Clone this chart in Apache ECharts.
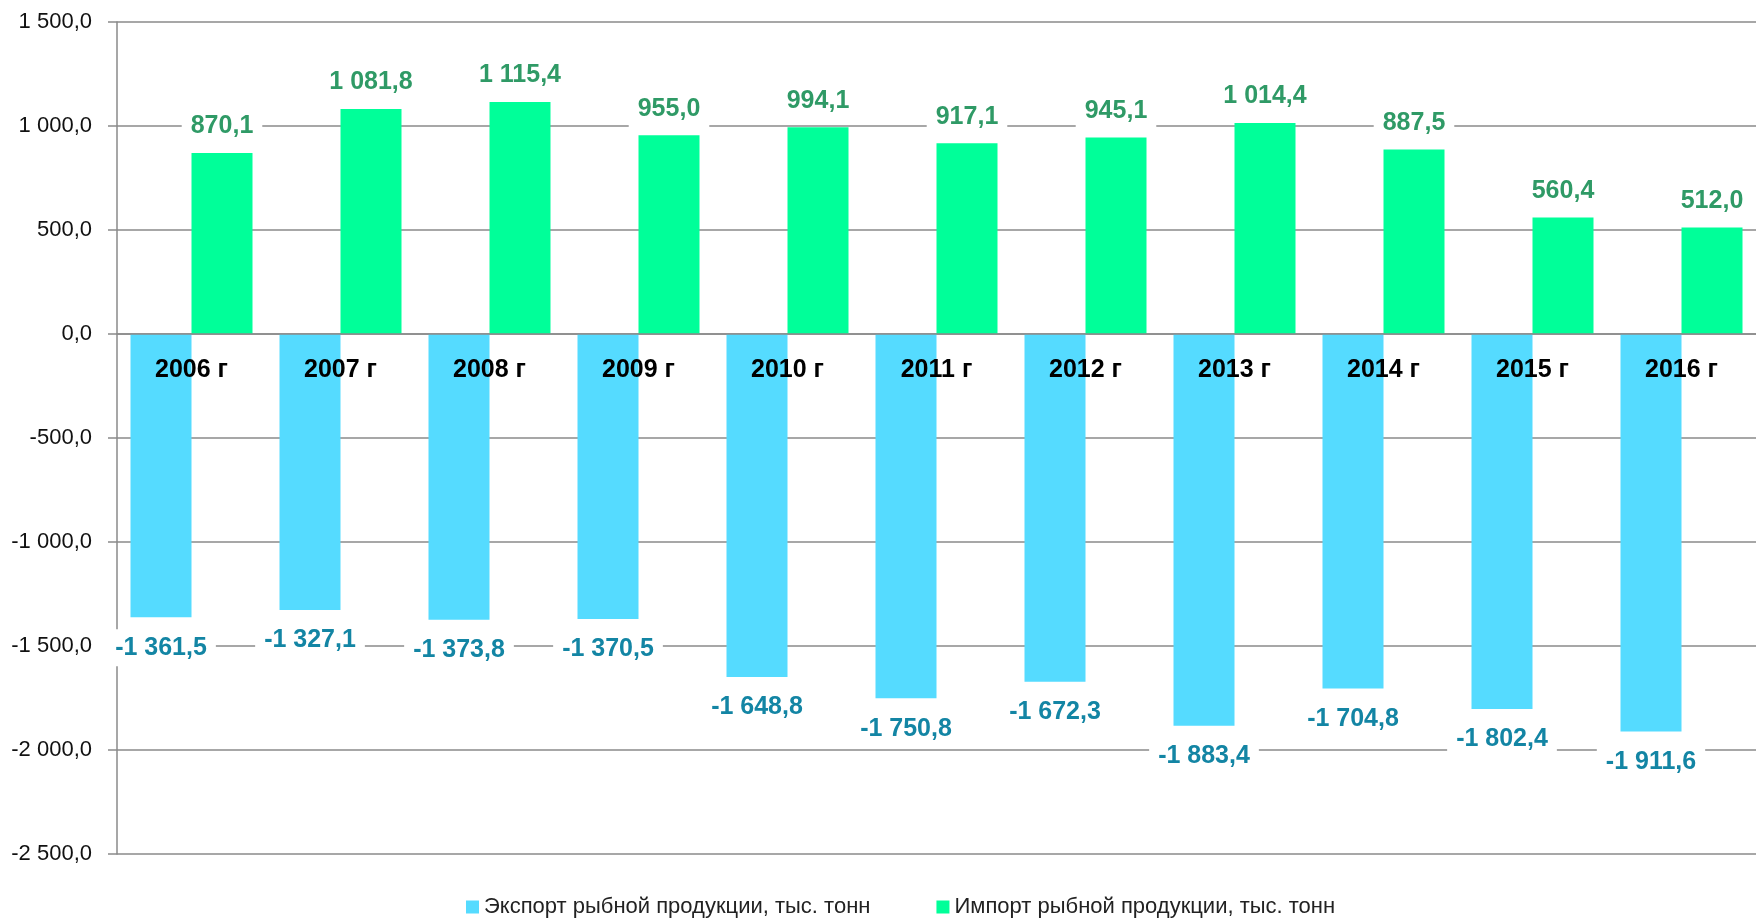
<!DOCTYPE html>
<html>
<head>
<meta charset="utf-8">
<script src="https://cdn.jsdelivr.net/npm/echarts@6/dist/echarts.min.js"></script>
<style>
  html, body { margin: 0; padding: 0; background: #fff; }
  #chart { width: 1756px; height: 921px; }
</style>
</head>
<body>
<div id="chart"></div>
<script>
const years = ["2006 г", "2007 г", "2008 г", "2009 г", "2010 г", "2011 г",
  "2012 г", "2013 г", "2014 г", "2015 г", "2016 г"];
const exportVals = [-1361.5, -1327.1, -1373.8, -1370.5, -1648.8, -1750.8,
  -1672.3, -1883.4, -1704.8, -1802.4, -1911.6];
const importVals = [870.1, 1081.8, 1115.4, 955.0, 994.1, 917.1,
  945.1, 1014.4, 887.5, 560.4, 512.0];

const FONT = '"Liberation Sans", Arial, sans-serif';

// 1 234,5 style numbers
function fmt(v) {
  const parts = Math.abs(v).toFixed(1).split(".");
  const whole = parts[0].replace(/\B(?=(\d{3})+(?!\d))/g, " ");
  return (v < 0 ? "-" : "") + whole + "," + parts[1];
}

const myChart = echarts.init(document.getElementById("chart"));
myChart.setOption({
  animation: false,
  textStyle: { fontFamily: FONT },
  grid: { left: 117, right: -11, top: 22, bottom: 67 },
  legend: {
    top: 891,
    left: 461,
    icon: "rect",
    itemWidth: 13,
    itemHeight: 13,
    itemGap: 66,
    textStyle: { fontFamily: FONT, fontSize: 22, color: "#222" },
  },
  xAxis: {
    type: "category",
    data: years,
    z: 5,
    position: "bottom",
    // zero line sits 520px above the grid bottom (-2500 .. 0 of 4000 over 832px)
    offset: -520,
    axisLine: { onZero: false, lineStyle: { color: "#8a8a8a", width: 1.5 } },
    axisTick: { length: 9, lineStyle: { color: "#8a8a8a", width: 1.5 } },
    axisLabel: {
      margin: 24,
      color: "#000",
      fontWeight: "bold",
      fontSize: 25,
      fontFamily: FONT,
    },
  },
  yAxis: {
    type: "value",
    min: -2500,
    max: 1500,
    interval: 500,
    axisLine: { show: true, lineStyle: { color: "#8a8a8a", width: 1.5 } },
    axisTick: { show: true, length: 9, lineStyle: { color: "#8a8a8a", width: 1.5 } },
    splitLine: { lineStyle: { color: "#8a8a8a", width: 1.5 } },
    axisLabel: {
      margin: 25,
      color: "#111",
      fontSize: 22,
      fontFamily: FONT,
      formatter: fmt,
    },
  },
  series: [
    {
      name: "Экспорт рыбной продукции, тыс. тонн",
      type: "bar",
      data: exportVals,
      barWidth: 61,
      barGap: "0%",
      itemStyle: { color: "#55dbff" },
      label: {
        show: true,
        position: "bottom",
        distance: 12,
        color: "#1385a4",
        fontWeight: "bold",
        fontSize: 25,
        fontFamily: FONT,
        backgroundColor: "#fff",
        padding: [6, 9],
        formatter: (p) => fmt(p.value),
      },
    },
    {
      name: "Импорт рыбной продукции, тыс. тонн",
      type: "bar",
      data: importVals,
      barWidth: 61,
      itemStyle: { color: "#00ff99" },
      label: {
        show: true,
        position: "top",
        distance: 8,
        color: "#2f9a66",
        fontWeight: "bold",
        fontSize: 25,
        fontFamily: FONT,
        backgroundColor: "#fff",
        padding: [6, 9],
        formatter: (p) => fmt(p.value),
      },
    },
  ],
});
</script>
</body>
</html>
